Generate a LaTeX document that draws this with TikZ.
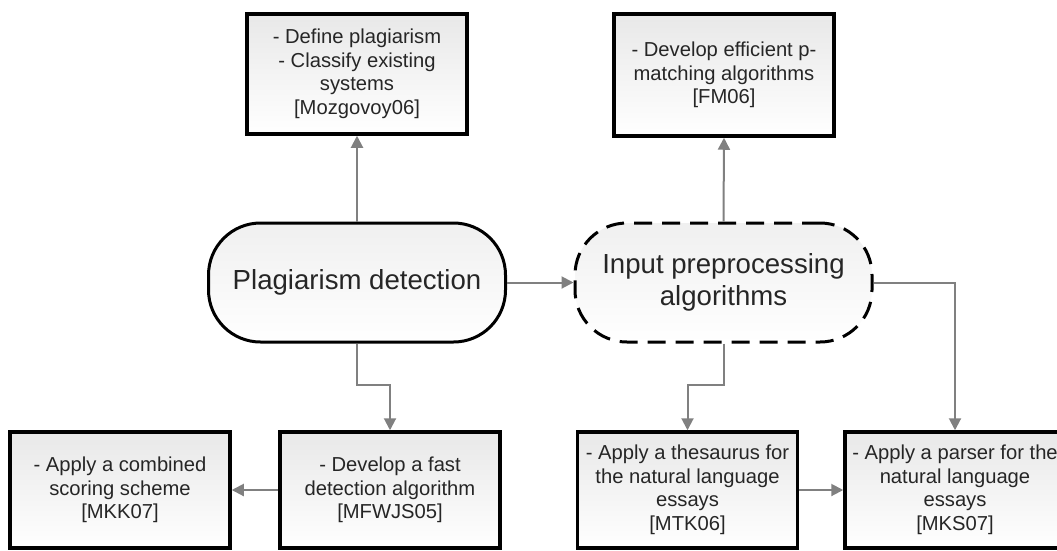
\documentclass[tikz,border=0pt]{standalone}
\usepackage{xcolor}
\usepackage{fontspec}
\setmainfont{Liberation Sans}
\usepackage{tikz}
\usetikzlibrary{calc,arrows.meta}

\begin{document}
\begin{tikzpicture}[x=1pt,y=-1pt,
  box/.style={draw=black,line width=3.5pt,top color=black!9,bottom color=white,
    align=center,text=black!85,inner sep=2pt,
    minimum width=220pt,font=\fontsize{20.2}{23.5}\selectfont},
  pill/.style={draw=black,line width=3pt,rounded corners=52pt,
    top color=black!6,bottom color=white,align=center,text=black!85,
    minimum width=297pt,minimum height=119pt,
    font=\fontsize{27.6}{32}\selectfont},
  link/.style={draw=black!50,line width=2pt,
    -{Triangle[length=12pt,width=12pt]}}]
\useasboundingbox (0,0) rectangle (1057,550);

% main topics
\node[pill] (plag) at (357,282.5) {Plagiarism detection};
\node[pill,dash pattern=on 18pt off 10pt] (inp) at (723.5,282.5)
  {Input preprocessing\\algorithms};

% top boxes
\node[box,minimum height=120pt] (def) at (357,74)
  {- Define plagiarism\\- Classify existing\\systems\\{[Mozgovoy06]}};
\node[box,minimum height=122pt] (eff) at (724,75)
  {- Develop efficient p-\\matching algorithms\\{[FM06]}};

% bottom boxes
\foreach \nm/\cx/\txt in {comb/120/{- Apply a combined\\scoring scheme\\{[MKK07]}},
    fast/390/{- Develop a fast\\detection algorithm\\{[MFWJS05]}},
    thes/687.5/{- Apply a thesaurus for\\the natural language\\essays\\{[MTK06]}},
    pars/955/{- Apply a parser for the\\natural language\\essays\\{[MKS07]}}}{%
\node[box,minimum height=116pt] (\nm) at (\cx,490) {\txt};
}

% connectors
\draw[link] (plag.north) -- (def.south);
\draw[link] (inp.north) -- (eff.south);
\draw[link] (plag.east) -- (inp.west);
\draw[link] (plag.south) -- ++(0,41) -| (fast.north);
\draw[link] (inp.south) -- ++(0,41) -| (thes.north);
\draw[link] (inp.east) -| (pars.north);
\draw[link] (fast.west) -- (comb.east);
\draw[link] (thes.east) -- (pars.west);
\end{tikzpicture}
\end{document}
